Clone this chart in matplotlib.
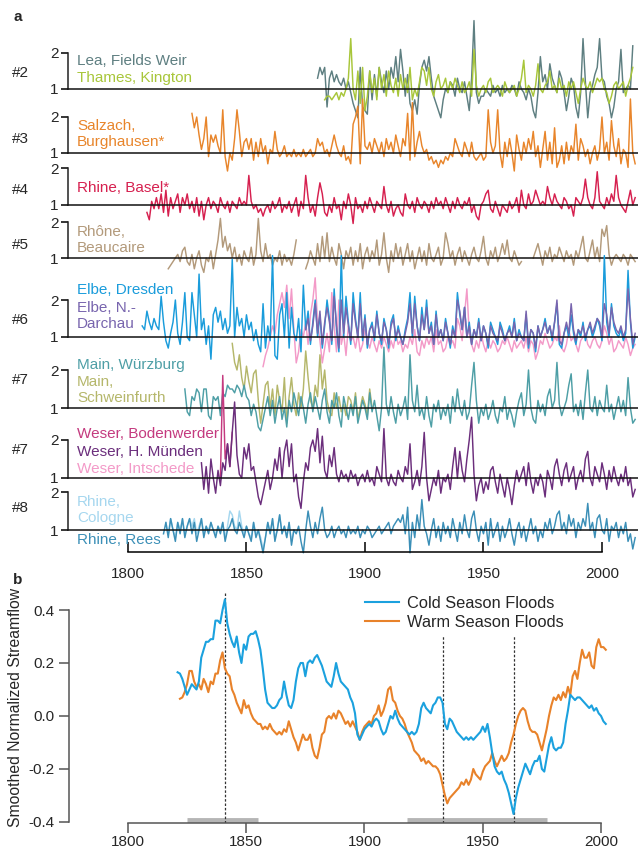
import numpy as np
import matplotlib
matplotlib.use("Agg")
import matplotlib.pyplot as plt

plt.rcParams['font.family'] = ['Liberation Sans', 'DejaVu Sans']

nan = np.nan

# ---------------- panel a : normalized annual flood peaks (1 = median) ----------------
lea_start = 1880
lea = [1.3, 1.6, 1.4, 1.6, 0.5, 1.3, 1.5, 1.2, 1.4, 1.2,
       1.1, 1.3, 1.0, 1.2, 0.9, 0.6, 0.4, 0.2, 1.6, 0.5,
       0.4, 0.3, 1.5, 0.7, 1.4, 0.8, 1.6, 1.2, 0.9, 1.5,
       1.0, 1.6, 1.3, 1.9, 1.2, 2.1, 1.5, 0.8, 1.4, 0.6,
       0.4, 0.7, 0.3, 1.1, 1.6, 1.8, 1.5, 1.9, 1.3, 0.8,
       0.6, 0.4, 0.2, 0.7, 1.0, 0.9, 1.2, 1.1, 0.8, 1.3,
       1.0, 0.9, 1.2, 0.8, 0.4, 1.3, 2.9, 0.9, 0.6, 0.8,
       0.8, 1.0, 0.9, 0.8, 1.1, 0.9, 1.0, 0.8, 1.1, 0.9,
       1.0, 0.9, 1.1, 1.0, 0.8, 1.2, 1.0, 0.9, 0.7, 1.0,
       0.8, 0.4, 0.2, 0.9, 1.9, 1.2, 1.4, 1.0, 1.7, 1.3,
       1.1, 0.9, 1.5, 1.3, 0.9, 0.4, 0.8, 1.3, 1.1, 0.5,
       0.2, 0.9, 2.4, 1.2, 0.2, 0.9, 1.1, 1.4, 1.6, 2.4,
       1.3, 1.2, 0.8, 0.6, 0.2, 0.5, 1.0, 1.2, 2.1, 0.9,
       1.0, 1.1, 1.0, 2.2]

thames_start = 1883
thames = [0.7, 0.8, 0.8, 0.7, 0.8, 0.9, 0.7, 0.9, 0.8, 1.0,
          1.3, 2.4, 1.0, 0.7, 1.5, 0.6, 1.6, 0.4, 0.8, 1.5,
          0.9, 1.3, 0.7, 1.6, 1.0, 1.4, 0.8, 1.5, 1.1, 0.9,
          1.3, 0.8, 1.4, 1.0, 1.3, 0.9, 1.6, 0.7, 1.0, 0.8,
          1.2, 1.6, 1.5, 1.1, 1.6, 1.0, 0.8, 1.2, 1.4, 1.0,
          1.1, 1.3, 0.9, 1.2, 1.0, 1.3, 1.1, 0.9, 1.2, 0.9,
          1.0, 1.2, 0.8, 2.1, 1.1, 0.8, 1.0, 1.1, 0.9, 1.2,
          1.3, 0.9, 1.0, 1.1, 1.0, 0.8, 1.2, 1.0, 0.9, 1.0,
          1.1, 0.8, 1.0, 1.3, 1.8, 0.9, 1.1, 1.0, 0.8, 1.1,
          1.7, 1.0, 0.9, 1.1, 1.2, 1.5, 1.0, 1.1, 0.9, 1.3,
          1.0, 1.1, 0.8, 1.2, 1.0, 1.2, 0.9, 0.6, 1.0, 1.3,
          1.1, 1.0, 1.2, 0.9, 1.1, 1.3, 1.2, 1.3, 1.0, 0.9,
          0.6, 0.8, 1.1, 1.2, 1.0, 1.1, 1.2, 0.8, 1.1, 1.3, 1.6]

salzach_start = 1827
salzach = [2.1, 1.7, 2.0, 1.5, 1.1, 1.4, 2.0, 0.9, 1.5, 1.3,
           1.5, 1.2, 1.0, 2.2, 0.9, 0.5, 1.0, 0.8, 1.4, 2.2,
           1.6, 0.9, 1.3, 1.4, 1.1, 1.4, 0.8, 1.3, 0.9, 1.4,
           1.0, 1.2, 0.7, 1.1, 1.0, 1.6, 1.1, 0.9, 1.0, 1.2,
           0.9, 1.0, 0.9, 1.1, 0.9, 1.0, 0.9, 1.1, 0.9, 1.0,
           1.1, 0.9, 1.0, 1.4, 1.2, 1.3, 1.0, 1.1, 0.9, 1.2,
           1.5, 1.2, 1.0, 0.9, 1.2, 0.8, 0.9, 0.7, 1.8, 2.0,
           2.3, 0.7, 2.5, 1.2, 1.1, 1.3, 1.0, 1.4, 1.2, 1.0,
           1.3, 0.9, 1.4, 1.1, 1.3, 1.0, 1.5, 1.2, 0.9, 1.4,
           1.2, 2.1, 0.8, 2.4, 0.9, 1.3, 1.6, 1.2, 1.0, 1.1,
           0.8, 0.9, 0.7, 0.8, 0.6, 0.8, 0.7, 0.9, 0.8, 1.0,
           0.9, 1.4, 1.2, 1.0, 0.9, 1.3, 1.1, 0.9, 1.3, 0.9,
           0.8, 0.9, 1.0, 0.8, 0.9, 2.2, 1.3, 1.0, 1.2, 2.2,
           1.0, 0.6, 1.3, 0.9, 1.4, 1.0, 0.5, 1.5, 1.1, 0.8,
           1.3, 1.0, 1.4, 1.1, 1.6, 0.9, 1.2, 0.6, 1.1, 1.6,
           0.8, 1.3, 0.7, 1.7, 0.6, 0.8, 1.2, 0.7, 1.3, 0.8,
           1.2, 1.0, 1.8, 0.8, 1.4, 1.2, 0.9, 1.1, 0.7, 1.0,
           1.2, 0.8, 1.1, 2.0, 1.0, 1.3, 0.8, 1.9, 1.2, 0.9,
           1.4, 0.7, 1.1, 1.0, 0.6, 2.5, 1.0, 0.7]

basel_start = 1808
basel = [0.8, 0.6, 1.1, 0.9, 1.2, 0.9, 1.3, 0.8, 1.4, 0.7,
         1.2, 0.9, 1.1, 1.3, 0.8, 1.2, 1.0, 1.3, 0.9, 1.1,
         0.8, 1.2, 0.7, 1.1, 0.6, 1.0, 1.2, 0.9, 1.1, 1.0,
         0.8, 1.2, 1.0, 0.9, 1.1, 0.8, 1.1, 1.0, 0.9, 1.2,
         1.0, 1.1, 1.0, 1.8, 1.1, 0.9, 1.0, 0.8, 0.9, 0.7,
         0.9, 1.0, 0.8, 1.1, 0.9, 1.0, 1.2, 0.8, 1.0, 0.9,
         1.1, 0.8, 1.0, 1.2, 0.7, 1.1, 0.9, 1.8, 1.2, 0.8,
         1.0, 0.7, 1.2, 1.6, 1.3, 0.8, 0.7, 1.0, 0.8, 1.2,
         0.9, 1.0, 0.6, 1.1, 0.9, 1.3, 1.0, 0.5, 1.2, 0.9,
         1.0, 0.8, 1.1, 0.9, 1.2, 1.0, 0.8, 1.1, 1.0, 0.9,
         1.5, 1.0, 0.8, 1.1, 0.7, 0.9, 1.0, 0.8, 0.7, 1.3,
         1.0, 0.9, 1.1, 0.8, 1.2, 1.0, 0.9, 1.1, 1.0, 0.8,
         1.1, 0.9, 1.2, 1.0, 1.1, 0.9, 1.2, 1.0, 0.8, 1.1,
         0.9, 1.2, 1.0, 0.9, 1.1, 1.0, 1.2, 0.8, 1.0, 0.7,
         0.6, 1.0, 1.1, 1.3, 1.4, 0.9, 0.8, 1.1, 0.9, 0.7,
         1.0, 0.9, 0.8, 1.1, 0.9, 1.0, 1.2, 0.8, 1.4, 1.0,
         0.9, 1.3, 1.0, 1.1, 1.4, 1.2, 1.0, 1.1, 1.0, 1.5,
         1.2, 1.0, 1.3, 1.1, 1.0, 0.9, 1.2, 1.1, 0.9, 1.0,
         0.7, 1.2, 1.1, 1.0, 1.2, 1.7, 1.2, 1.0, 0.9, 1.2,
         1.9, 1.1, 1.0, 0.9, 1.2, 1.0, 1.3, 1.1, 1.8, 1.2,
         1.0, 0.9, 0.8, 1.1, 1.4, 1.0, 1.2]

rhone_start = 1817
rhone = [0.7, 0.8, 0.9, 1.0, 1.1, 0.9, 1.2, 1.3, 0.9, 0.8,
         1.1, 0.7, 1.0, 1.2, 0.8, 0.6, 1.0, 0.9, 1.2, 0.7,
         1.1, 1.5, 2.1, 1.3, 1.6, 1.2, 1.4, 1.0, 1.3, 0.9,
         1.1, 0.8, 1.2, 1.0, 0.9, 1.3, 0.8, 1.1, 2.1, 1.2,
         0.9, 1.4, 1.0, 1.1, 0.8, 1.0, 0.9, 1.2, 0.8, 1.1,
         0.9, 1.0, 0.8, 1.1, 1.5, nan, nan, nan,
         0.7, 0.9, 1.2, 1.0, 0.8, 1.4, 0.9, 1.6, 1.0, 1.7,
         0.9, 1.3, 1.0, 0.8, 1.4, 1.1, 0.7, 1.2, 1.0, 1.3,
         0.8, 1.2, 0.9, 1.4, 0.7, 1.1, 1.3, 0.9, 1.2, 1.0,
         1.5, 0.8, 1.1, 1.7, 1.0, 0.6, 1.2, 0.9, 1.4, 1.0,
         1.3, 0.8, 1.1, 1.4, 0.9, 1.2, 0.7, 1.0, 1.3, 0.9,
         1.2, 0.8, 1.4, 1.0, 0.9, 1.1, 1.3, 0.8, 1.0, 1.7,
         1.4, 1.0, 1.2, 0.8, 1.1, 1.3, 0.9, 1.2, 1.0, 0.8,
         1.1, 1.3, 1.0, 0.9, 1.2, 1.6, 1.0, 0.8, 1.2, 1.0,
         1.3, 0.9, 1.1, 1.4, 1.1, 1.5, 1.0, 0.9, 1.2, 1.0, 0.8, 0.9,
         nan, nan, nan, nan,
         1.0, 1.2, 1.4, 1.1, 0.8, 1.2, 1.0, 1.3, 0.9, 1.1,
         1.0, 1.3, 1.1, 0.9, 1.2, 1.0, 1.1, 0.8, 1.2, 1.0,
         1.3, 1.6, 1.0, 0.9, 1.2, 1.5, 1.0, 1.3, 0.9, 1.8,
         1.6, 1.9, 1.1, 0.8, 1.0, 1.1, 1.0, 0.9, 1.1, 1.0,
         0.8, 1.1, 1.0, 0.9]

dresden_start = 1806
dresden = [1.3, 1.2, 1.7, 1.4, 1.2, 1.5, 1.3, 1.2, 2.1, 1.4,
           0.9, 0.7, 1.1, 1.4, 2.0, 1.1, 0.8, 1.4, 2.2, 1.0,
           0.9, 2.2, 1.6, 1.0, 2.7, 1.2, 1.5, 0.8, 1.3, 0.4,
           1.6, 1.8, 1.4, 1.7, 1.2, 1.5, 1.1, 1.3, 3.1, 1.0,
           1.8, 1.3, 1.5, 1.0, 1.6, 1.2, 1.4, 0.9, 1.2, 0.8,
           0.6, 1.9, 0.7, 1.3, 0.9, 3.2, 0.5, 0.4, 1.6, 1.9,
           1.0, 2.2, 0.7, 1.8, 1.1, 0.9, 1.5, 0.6, 2.4, 1.2,
           1.7, 0.8, 1.4, 2.0, 1.0, 1.6, 0.7, 1.3, 2.0, 1.5,
           0.8, 2.3, 1.2, 0.6, 3.2, 1.0, 2.1, 1.4, 0.8, 2.2,
           1.5, 1.0, 2.2, 0.9, 1.6, 0.7, 1.2, 1.4, 0.9, 1.7,
           1.1, 0.8, 1.5, 1.2, 0.7, 1.4, 1.6, 0.9, 1.3, 1.0,
           0.8, 1.2, 1.5, 2.2, 1.0, 2.1, 1.3, 0.9, 1.8, 1.2,
           2.0, 1.1, 1.4, 0.8, 1.7, 1.0, 1.2, 0.9, 1.5, 1.1,
           0.7, 1.3, 1.0, 2.2, 1.6, 1.2, 1.8, 1.0, 1.4, 0.8,
           1.2, 1.0, 1.5, 0.9, 1.3, 1.1, 0.7, 1.4, 1.2, 1.0,
           0.8, 1.4, 1.2, 0.9, 1.1, 1.3, 1.0, 1.5, 0.9, 1.2,
           1.0, 0.9, 1.6, 0.7, 1.2, 1.1, 0.6, 1.3, 1.0, 1.2,
           1.5, 1.1, 1.3, 0.9, 1.4, 1.9, 0.8, 0.7, 1.1, 1.3,
           1.0, 1.6, 1.1, 0.8, 1.2, 1.0, 1.4, 0.9, 1.2, 1.3,
           1.0, 1.2, 1.5, 1.3, 0.9, 3.2, 1.4, 1.0, 1.9, 1.3,
           1.1, 1.0, 1.2, 0.9, 1.1, 2.8, 1.4, 0.7, 1.0]

darchau_start = 1875
darchau = [1.2, 1.5, 0.9, 1.3, 1.9, 1.1, 1.7, 0.8, 1.4, 1.8,
           1.4, 0.9, 2.1, 1.3, 0.7, 2.0, 1.1, 1.8, 1.3, 0.9,
           1.9, 1.4, 1.0, 1.9, 1.0, 1.5, 0.8, 1.2, 1.3, 1.0,
           1.6, 1.1, 0.9, 1.4, 1.2, 0.8, 1.3, 1.5, 1.0, 1.2,
           1.0, 0.8, 1.1, 1.4, 1.9, 1.1, 1.9, 1.3, 0.9, 1.6,
           1.2, 1.8, 1.1, 1.3, 0.8, 1.6, 1.0, 1.2, 0.9, 1.4,
           1.1, 0.8, 1.2, 1.0, 2.0, 1.7, 1.2, 1.8, 1.0, 1.3,
           0.8, 1.2, 1.0, 1.4, 0.9, 1.3, 1.1, 0.8, 1.3, 1.1,
           1.0, 0.9, 1.3, 1.1, 0.9, 1.1, 1.2, 1.0, 1.4, 0.9,
           1.1, 1.0, 0.9, 1.7, 0.8, 1.2, 1.1, 0.7, 1.3, 1.0,
           1.2, 1.4, 1.1, 1.3, 1.0, 1.4, 2.0, 0.9, 0.8, 1.1,
           1.4, 1.1, 1.9, 1.2, 0.9, 1.2, 1.1, 1.3, 1.0, 1.2,
           1.4, 1.1, 1.3, 1.5, 1.4, 1.0, 1.9, 1.6, 1.1, 1.8,
           1.4, 1.2, 1.1, 1.3, 1.0, 1.2, 2.3, 1.5, 0.8, 1.1]

intschede_start = 1857
intschede = [0.2, 0.5, 0.7, 1.0, 1.3, 1.1, 1.6, 1.9, 2.2, 1.8,
             2.4, 1.5, 2.3, 1.2, 0.3, 0.6, 1.2, 1.0, 1.4, 0.8,
             1.6, 2.0, 2.6, 1.4, 0.9, 0.3, 0.7, 1.1, 0.6, 2.2,
             1.3, 0.6, 2.0, 0.8, 1.1, 0.5, 1.3, 0.9, 1.0, 0.7,
             1.1, 0.6, 0.8, 1.2, 0.9, 0.7, 1.0, 0.8, 0.6, 0.9,
             0.7, 1.0, 0.8, 0.6, 0.9, 0.7, 1.1, 0.8, 0.9, 0.6,
             0.8, 0.7, 1.0, 0.8, 1.2, 0.6, 0.5, 0.9, 0.7, 1.0,
             0.8, 1.0, 0.6, 1.2, 0.8, 0.9, 0.6, 0.7, 1.0, 0.8,
             0.9, 0.7, 1.5, 1.3, 0.9, 1.6, 2.3, 1.1, 0.8, 0.6,
             0.9, 0.7, 1.1, 0.8, 0.6, 0.9, 0.7, 0.9, 0.8, 0.6,
             0.7, 0.9, 0.8, 1.0, 0.8, 0.6, 0.9, 0.7, 0.8, 0.9,
             0.7, 1.0, 0.6, 0.9, 0.8, 0.4, 0.6, 0.9, 0.8, 1.1,
             0.9, 0.7, 0.8, 1.0, 0.9, 1.3, 0.7, 0.6, 0.8, 1.2,
             0.9, 1.0, 0.8, 0.6, 0.9, 1.0, 1.1, 0.8, 0.7, 0.9,
             1.0, 0.8, 0.7, 0.9, 1.3, 1.1, 0.8, 1.0, 0.6, 0.7,
             0.9, 0.8, 0.7, 1.0, 0.8, 0.5, 0.7, 0.8]

wuerzburg_start = 1824
wuerzburg = [1.5, 0.9, 0.8, 1.3, 1.2, 1.5, 1.4, 0.9, 1.5, 1.5,
             0.8, 0.7, 1.3, 1.2, 1.3, 0.8, 1.4, 1.3, 1.6, 1.5,
             1.5, 1.4, 1.6, 1.5, 1.3, 1.6, 1.3, 1.2, 0.8, 1.1,
             0.9, 0.5, 0.4, 0.7, 1.0, 1.3, 0.8, 1.2, 0.6, 1.0,
             1.3, 0.7, 1.0, 0.5, 1.2, 0.9, 1.4, 1.1, 0.8, 1.3,
             1.0, 0.6, 1.1, 1.4, 0.9, 1.3, 1.0, 0.7, 1.2, 1.5,
             0.9, 0.6, 1.2, 1.0, 1.4, 0.8, 0.5, 1.3, 1.0, 0.7,
             1.1, 0.8, 1.3, 0.6, 0.9, 1.2, 1.0, 0.7, 1.4, 0.9,
             1.2, 0.8, 0.4, 1.0, 2.6, 1.1, 0.8, 1.3, 0.9, 0.6,
             1.1, 0.8, 1.0, 1.3, 0.7, 2.4, 1.2, 0.9, 1.6, 0.8,
             1.0, 0.7, 1.3, 0.8, 0.5, 1.1, 0.9, 1.2, 0.7, 1.0,
             0.8, 1.1, 0.6, 1.3, 0.9, 1.5, 1.0, 0.8, 1.2, 0.7,
             0.9, 1.6, 2.2, 1.2, 0.6, 1.0, 0.8, 1.1, 0.7, 0.9,
             1.2, 0.8, 0.6, 1.0, 0.9, 1.3, 0.7, 1.0, 0.8, 0.5,
             0.9, 1.2, 1.4, 0.8, 1.1, 2.0, 1.0, 0.7, 0.6, 1.2,
             0.9, 1.1, 0.8, 1.3, 1.5, 1.0, 1.2, 2.2, 1.1, 0.8,
             1.0, 1.2, 1.6, 1.9, 0.9, 1.1, 0.8, 1.2, 0.7, 1.4,
             2.0, 1.0, 0.9, 1.3, 0.8, 1.2, 1.0, 0.9, 1.6, 0.9,
             1.1, 0.7, 1.0, 1.3, 0.9, 1.2, 0.8, 1.8, 1.0, 0.6, 0.7]

schweinfurth_start = 1844
schweinfurth = [2.7, 2.2, 2.0, 2.4, 1.8, 1.5, 2.1, 1.7, 1.4, 1.9,
                2.0, 1.2, 0.6, 1.1, 1.6, 1.7, 1.0, 1.5, 0.8, 1.6,
                1.2, 0.9, 1.8, 0.6, 1.3, 1.8, 1.1, 0.8, 1.4, 1.0,
                1.5, 2.5, 1.8, 1.2, 1.0, 1.6, 1.3, 2.4, 1.5, 2.0,
                1.2, 0.9, 0.8, 1.4, 1.0, 1.3, 0.9, 1.1, 0.8, 1.3,
                1.2, 0.9, 1.4, 0.7, 1.0, 1.3, 1.1, 0.8, 1.5, 1.0]

bodenwerder_start = 1839
bodenwerder = [1.0, 3.7, 1.5, 1.9, 1.3, 2.2]

muenden_start = 1831
muenden = [1.4, 0.7, 1.3, 0.6, 1.5, 1.0, 0.6, 1.2, 0.8, 1.4,
           1.2, 1.9, 1.3, 2.2, 3.0, 1.6, 1.1, 1.0, 1.8, 1.5,
           1.9, 1.2, 1.3, 0.9, 0.5, 0.3, 0.6, 0.9, 1.2, 0.7,
           1.0, 1.5, 1.2, 1.8, 1.0, 1.7, 2.0, 1.3, 1.9, 0.9,
           1.1, 0.5, 0.2, 0.9, 1.4, 1.2, 1.8, 2.0, 1.7, 2.3,
           1.4, 2.1, 1.2, 1.0, 1.6, 1.3, 1.8, 1.1, 0.9, 1.2,
           1.0, 1.1, 0.9, 1.2, 1.0, 1.1, 0.8, 1.0, 1.1, 0.9,
           1.2, 0.9, 1.0, 0.8, 1.3, 1.1, 0.9, 2.3, 1.0, 0.8,
           1.1, 0.9, 0.8, 1.2, 1.0, 0.9, 1.3, 1.1, 1.9, 0.7,
           0.9, 1.2, 0.8, 1.3, 2.2, 1.0, 0.4, 0.7, 1.0, 0.8,
           1.2, 0.6, 1.0, 0.9, 1.1, 0.7, 1.3, 1.8, 1.0, 1.7,
           1.2, 0.9, 1.5, 2.0, 2.6, 1.1, 0.4, 0.8, 1.0, 0.6,
           0.9, 0.7, 1.2, 1.3, 0.9, 0.6, 1.1, 0.8, 0.5, 1.0,
           0.7, 0.3, 0.8, 1.2, 0.9, 1.1, 1.3, 0.8, 1.4, 0.9,
           0.6, 1.0, 0.8, 1.1, 0.9, 0.5, 1.2, 1.0, 0.7, 1.3,
           1.5, 1.1, 0.8, 1.2, 1.4, 0.9, 1.1, 1.3, 0.7, 1.0,
           1.2, 0.9, 1.5, 1.7, 1.0, 0.8, 1.3, 1.1, 0.9, 1.4,
           1.1, 0.7, 1.2, 0.9, 1.3, 1.0, 0.8, 1.1, 0.9, 1.3,
           0.8, 1.0, 0.5, 0.7]

cologne_start = 1816
cologne = [1.2, 0.9, 1.3, 1.0, 0.8, 1.2, 1.0, 1.3, 0.9, 1.1,
           1.3, 1.1, 1.3, 0.9, 1.1, 1.3, 0.9, 1.1, 1.0, 1.2,
           1.0, 0.9, 1.1, 1.0, 1.2, 0.8, 1.1, 1.5, 1.4, 1.1,
           1.0, 1.5, 1.1, 0.9, 1.1, 0.9, 0.8, 1.2, 0.9, 1.0,
           0.8, 0.5, 0.8, 1.2, 0.9, 1.3, 0.8, 1.0, 1.4, 0.9,
           1.1, 0.8, 1.2, 0.7, 1.0]

rees_start = 1815
rees = [0.9, 1.2, 0.8, 1.3, 1.0, 0.7, 1.2, 0.9, 1.3, 0.8,
        1.1, 1.3, 0.9, 1.2, 0.7, 1.0, 1.3, 0.8, 1.1, 0.9,
        1.2, 1.0, 0.8, 1.1, 0.9, 1.2, 0.7, 1.0, 1.1, 1.3,
        1.0, 0.9, 1.2, 1.0, 0.8, 1.1, 0.9, 0.7, 1.2, 0.8,
        1.0, 0.7, 0.4, 0.8, 1.2, 0.9, 1.3, 0.7, 1.0, 1.4,
        0.9, 1.1, 0.8, 1.2, 0.6, 1.0, 0.9, 1.1, 0.7, 0.4,
        1.0, 1.5, 1.1, 0.8, 1.2, 0.9, 1.3, 1.6, 1.0, 0.8,
        0.9, 1.1, 0.8, 1.0, 1.1, 0.9, 1.0, 0.8, 1.1, 0.9,
        1.0, 0.9, 1.1, 0.8, 1.0, 0.9, 1.1, 1.0, 0.8, 0.9,
        1.0, 1.1, 0.9, 1.0, 1.1, 1.2, 0.9, 1.1, 1.2, 1.3,
        1.2, 1.4, 0.9, 1.6, 0.4, 1.2, 0.8, 1.4, 1.0, 1.8,
        1.1, 0.9, 0.6, 1.0, 1.3, 0.8, 1.1, 0.7, 1.2, 0.9,
        1.1, 0.8, 1.3, 1.0, 0.7, 1.2, 0.9, 1.4, 1.0, 0.8,
        1.3, 1.5, 1.0, 0.7, 1.1, 0.9, 1.2, 0.6, 1.3, 0.8,
        1.0, 1.2, 0.7, 1.1, 0.8, 1.0, 1.3, 0.9, 0.6, 1.0,
        1.2, 0.8, 1.1, 0.7, 1.0, 1.3, 0.9, 1.1, 0.7, 1.0,
        0.8, 1.2, 1.0, 1.3, 0.9, 1.1, 1.4, 1.5, 1.0, 1.2,
        0.9, 1.4, 1.1, 1.3, 0.8, 1.2, 1.0, 1.3, 1.1, 1.7,
        1.0, 1.2, 0.8, 1.3, 1.4, 1.0, 0.9, 1.3, 0.7, 1.1,
        1.0, 1.2, 0.8, 1.1, 0.9, 1.2, 0.7, 0.9, 0.5, 0.8]

# ---------------- panel b : smoothed normalized streamflow ----------------
cold_start = 1821
cold = [0.165, 0.16, 0.14, 0.11, 0.08, 0.10, 0.12, 0.11, 0.10, 0.13,
        0.22, 0.25, 0.28, 0.28, 0.29, 0.29, 0.36, 0.36, 0.35, 0.40,
        0.44, 0.35, 0.31, 0.28, 0.26, 0.30, 0.24, 0.20, 0.27, 0.25,
        0.30, 0.31, 0.31, 0.32, 0.29, 0.25, 0.18, 0.10, 0.05, 0.04,
        0.03, 0.03, 0.04, 0.06, 0.07, 0.13, 0.08, 0.04, 0.03, 0.06,
        0.13, 0.18, 0.20, 0.20, 0.15, 0.20, 0.21, 0.20, 0.22, 0.23,
        0.21, 0.19, 0.16, 0.13, 0.12, 0.11, 0.15, 0.20, 0.16, 0.13,
        0.12, 0.11, 0.10, 0.07, 0.05, 0.01, -0.07, -0.09, -0.07, -0.05,
        -0.04, -0.03, -0.04, -0.02, -0.01, -0.02, -0.05, -0.07, -0.06, -0.03,
        0.0, -0.01, 0.02, -0.01, -0.03, -0.04, -0.05, -0.06, -0.07, -0.06,
        -0.07, -0.06, -0.03, 0.03, 0.05, 0.03, 0.02, 0.01, 0.04, 0.05,
        0.07, 0.07, 0.05, -0.03, -0.05, -0.01, -0.02, -0.04, -0.06, -0.07,
        -0.08, -0.09, -0.08, -0.09, -0.08, -0.09, -0.08, -0.07, -0.06, -0.04,
        -0.06, -0.03, -0.08, -0.14, -0.19, -0.21, -0.22, -0.21, -0.24, -0.26,
        -0.29, -0.33, -0.37, -0.31, -0.27, -0.24, -0.21, -0.18, -0.20, -0.22,
        -0.19, -0.17, -0.17, -0.15, -0.20, -0.21, -0.16, -0.11, -0.08, -0.12,
        -0.13, -0.12, -0.12, -0.10, -0.03, 0.02, 0.08, 0.07, 0.06, 0.07,
        0.07, 0.06, 0.05, 0.04, 0.03, 0.04, 0.02, 0.03, 0.01, 0.0,
        -0.02, -0.03]

warm_start = 1822
warm = [0.065, 0.07, 0.09, 0.12, 0.17, 0.17, 0.13, 0.11, 0.12, 0.10,
        0.14, 0.12, 0.09, 0.13, 0.12, 0.16, 0.16, 0.21, 0.24, 0.18,
        0.16, 0.15, 0.10, 0.08, 0.05, 0.03, 0.01, 0.06, 0.03, 0.04,
        0.01, -0.01, -0.02, -0.03, -0.03, -0.05, -0.04, -0.05, -0.03, -0.05,
        -0.06, -0.07, -0.06, -0.07, -0.05, -0.06, -0.02, -0.05, -0.08, -0.10,
        -0.13, -0.10, -0.07, -0.09, -0.09, -0.07, -0.12, -0.15, -0.16, -0.12,
        -0.07, -0.06, -0.01, 0.00, -0.01, 0.01, -0.01, 0.02, 0.01, -0.01,
        -0.03, -0.02, -0.04, -0.02, -0.04, -0.06, -0.09, -0.06, -0.04, -0.03,
        -0.02, -0.03, 0.00, 0.01, 0.04, 0.0, 0.02, 0.05, 0.10, 0.11,
        0.06, 0.05, 0.02, 0.0, -0.01, -0.03, -0.06, -0.08, -0.10, -0.13,
        -0.14, -0.15, -0.17, -0.16, -0.18, -0.17, -0.18, -0.19, -0.19, -0.20,
        -0.22, -0.26, -0.30, -0.33, -0.31, -0.30, -0.29, -0.28, -0.27, -0.25,
        -0.26, -0.24, -0.26, -0.24, -0.20, -0.22, -0.23, -0.24, -0.21, -0.19,
        -0.18, -0.17, -0.14, -0.17, -0.19, -0.17, -0.15, -0.17, -0.16, -0.14,
        -0.10, -0.07, -0.03, 0.0, 0.02, 0.03, 0.02, -0.02, -0.05, -0.06,
        -0.06, -0.07, -0.10, -0.13, -0.09, -0.05, 0.0, 0.04, 0.07, 0.06,
        0.08, 0.06, 0.09, 0.07, 0.11, 0.08, 0.15, 0.17, 0.14, 0.20,
        0.25, 0.22, 0.22, 0.24, 0.19, 0.18, 0.26, 0.29, 0.26, 0.26,
        0.25]

shift_years = [1841, 1933, 1963]
shaded_periods = [(1825, 1855), (1918, 1977)]

# ---------------- layout helpers (pixels) ----------------
W, H = 638, 848
fig = plt.figure(figsize=(W / 100, H / 100), dpi=100)
TXT = '#262626'
XL = (1774.7, 2015.2)


def px_axes(left, top, right, bottom):
    return fig.add_axes([left / W, 1 - bottom / H, (right - left) / W, (bottom - top) / H])


def ftext(x, y, s, **kw):
    fig.text(x / W, 1 - y / H, s, **kw)


# rows: (tag, top px, baseline px, tag y, [(start, values, color, label, label y)])
rows = [
    ('#2', 53, 89, 73, [(lea_start, lea, '#5e7f81', 'Lea, Fields Weir', 61),
                        (thames_start, thames, '#a8c63a', 'Thames, Kington', 78)]),
    ('#3', 117, 153, 139, [(salzach_start, salzach, '#e8852b', 'Salzach,\nBurghausen*', 134)]),
    ('#4', 168, 205, 190, [(basel_start, basel, '#d6204f', 'Rhine, Basel*', 188)]),
    ('#5', 222, 258, 245, [(rhone_start, rhone, '#b39a7b', 'Rhône,\nBeaucaire', 240)]),
    ('#6', 300, 337, 320, [(intschede_start, intschede, '#f39ac8', None, 0),
                           (dresden_start, dresden, '#1a9cdb', 'Elbe, Dresden', 290),
                           (darchau_start, darchau, '#7865ae', 'Elbe, N.-\nDarchau', 316)]),
    ('#7', 370, 408, 380, [(schweinfurth_start, schweinfurth, '#b5b76b', 'Main,\nSchweinfurth', 390),
                           (wuerzburg_start, wuerzburg, '#4e9fa6', 'Main, Würzburg', 365)]),
    ('#7', 440, 478, 450, [(bodenwerder_start, bodenwerder, '#c43a7f', 'Weser, Bodenwerder', 434),
                           (muenden_start, muenden, '#6b2e7c', 'Weser, H. Münden', 452)]),
    ('#8', 492, 530, 508, [(cologne_start, cologne, '#a6d7ef', 'Rhine,\nCologne', 510),
                           (rees_start, rees, '#3b8fb7', 'Rhine, Rees', 540)]),
]

fs = 11
for tag, top, base, tag_y, series in rows:
    ax = px_axes(68, top, 638, base)
    ax.patch.set_visible(False)
    ax.set_xlim(*XL)
    ax.set_ylim(1, 2)
    for s in ['top', 'right', 'bottom']:
        ax.spines[s].set_visible(False)
    ax.spines['left'].set_linewidth(1.1)
    ax.spines['left'].set_color('#222222')
    ax.set_xticks([])
    ax.set_yticks([1, 2])
    ax.set_yticklabels(['1', '2'])
    ax.tick_params(axis='y', length=5, width=1.1, pad=2, labelsize=fs, labelcolor=TXT)
    for start, vals, col, lab, ly in series:
        yrs = start + np.arange(len(vals))
        ax.plot(yrs, vals, color=col, lw=1.05, clip_on=False, zorder=2)
        if lab:
            ftext(77, ly, lab, color=col, fontsize=fs, va='center', linespacing=1.12)
    ax.axhline(1, color='#111111', lw=1.1, zorder=3, clip_on=False)
    ftext(12, tag_y, tag, color=TXT, fontsize=fs, va='center')

# Weser Intschede label (its line sits in the Elbe row as in the source figure)
ftext(77, 469, 'Weser, Intschede', color='#f39ac8', fontsize=fs, va='center')

# shared time axis of panel a
axx = px_axes(68, 540, 638, 552)
axx.patch.set_visible(False)
axx.set_xlim(*XL)
for s in ['top', 'right', 'left']:
    axx.spines[s].set_visible(False)
axx.spines['bottom'].set_bounds(1800, 2000)
axx.spines['bottom'].set_linewidth(1.1)
axx.set_yticks([])
axx.set_xticks([1800, 1850, 1900, 1950, 2000])
axx.tick_params(axis='x', direction='in', length=7, width=1.1, labelsize=fs, labelcolor=TXT, pad=11)

ftext(13, 17, 'a', fontsize=11, fontweight='bold', va='center', color=TXT)
ftext(13, 580, 'b', fontsize=11, fontweight='bold', va='center', color=TXT)

# ---------------- panel b ----------------
axb = px_axes(69, 592, 615, 823)
axb.patch.set_visible(False)
XB = (1775.1, 2005.9)
axb.set_xlim(*XB)
axb.set_ylim(-0.404, 0.468)
axb.spines['top'].set_visible(False)
axb.spines['right'].set_visible(False)
axb.spines['left'].set_bounds(-0.4, 0.4)
axb.spines['bottom'].set_bounds(1800, 2000)
for s in ['left', 'bottom']:
    axb.spines[s].set_linewidth(1.1)
    axb.spines[s].set_color('#555555')
axb.set_yticks([-0.4, -0.2, 0.0, 0.2, 0.4])
axb.set_yticklabels(['-0.4', '-0.2', '0.0', '0.2', '0.4'])
axb.set_xticks([1800, 1850, 1900, 1950, 2000])
axb.tick_params(length=7, width=1.1, labelsize=fs, labelcolor=TXT, color='#555555')
axb.tick_params(axis='x', pad=1.5)
axb.set_ylabel('Smoothed Normalized Streamflow', fontsize=fs + 0.3, color=TXT, labelpad=4)

for a, b in shaded_periods:
    axb.hlines(-0.393, a, b, color='#b5b5b5', lw=3.5, zorder=1, clip_on=False)

for i, yr in enumerate(shift_years):
    top = 0.468 if i == 0 else 0.305
    axb.vlines(yr, -0.404, top, color='#333333', lw=0.9, linestyles=(0, (2, 1.5)), zorder=1)

axb.plot(cold_start + np.arange(len(cold)), cold, color='#1ba1de', lw=1.5, label='Cold Season Floods', zorder=3)
axb.plot(warm_start + np.arange(len(warm)), warm, color='#e8822a', lw=1.5, label='Warm Season Floods', zorder=2)
leg = axb.legend(loc='upper left', bbox_to_anchor=(365 / W, 1 - 596 / H), bbox_transform=fig.transFigure,
                 frameon=False, fontsize=fs + 0.8, borderpad=0, borderaxespad=0,
                 handlelength=2.1, handletextpad=0.45, labelspacing=0.22)
for t in leg.get_texts():
    t.set_color(TXT)

fig.savefig('out.png', dpi=100)
